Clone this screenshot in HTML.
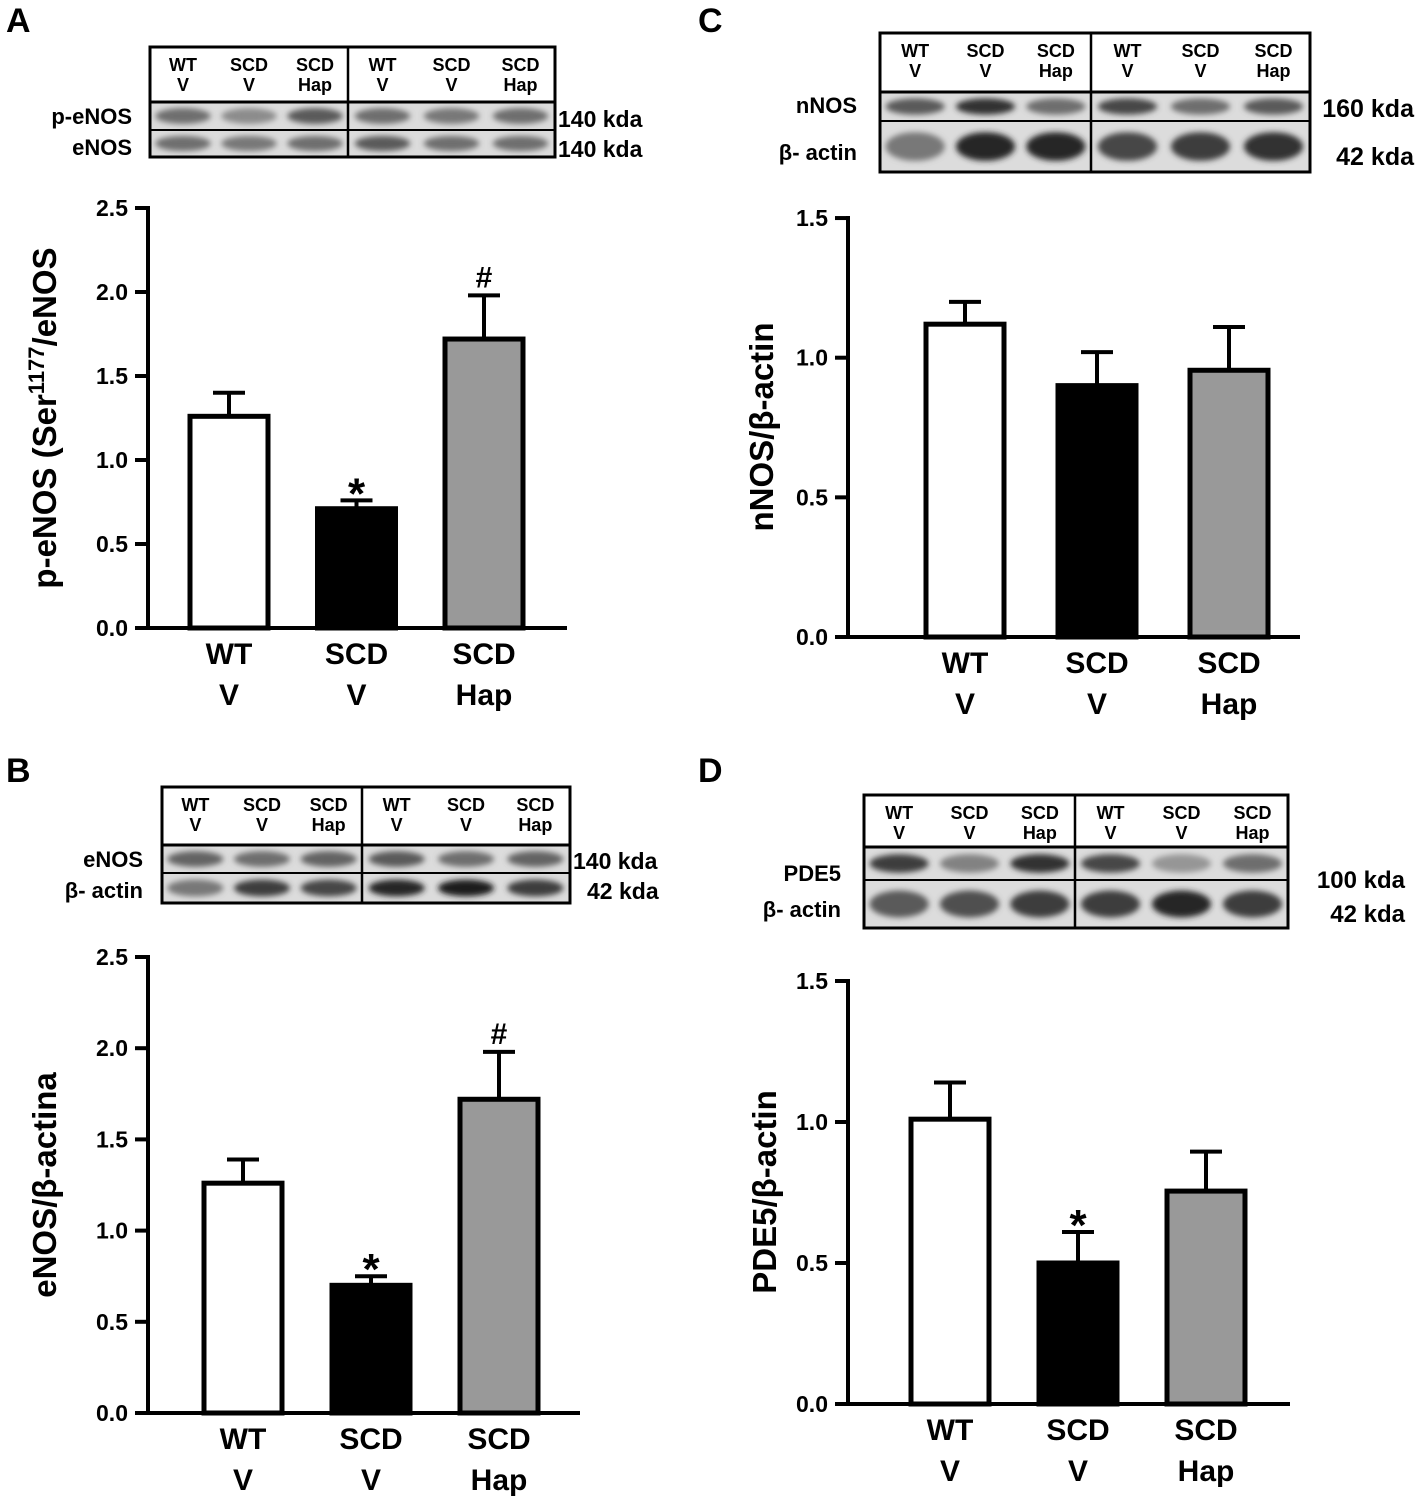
<!DOCTYPE html>
<html><head><meta charset="utf-8"><style>
html,body{margin:0;padding:0;background:#fff}
svg{display:block;font-family:"Liberation Sans",Arial,sans-serif;font-weight:bold}
</style></head><body>
<svg id="fig" width="1418" height="1499" viewBox="0 0 1418 1499" xmlns="http://www.w3.org/2000/svg">
<defs><filter id="blur" x="-20%" y="-50%" width="140%" height="200%"><feGaussianBlur stdDeviation="3"/></filter></defs>
<text x="6" y="32" font-size="34">A</text>
<text x="6" y="782" font-size="34">B</text>
<text x="698" y="32" font-size="34">C</text>
<text x="698" y="782" font-size="34">D</text>
</svg>
<script>
const categories = [["WT","V"],["SCD","V"],["SCD","Hap"]];
const laneLabels = [["WT","V"],["SCD","V"],["SCD","Hap"],["WT","V"],["SCD","V"],["SCD","Hap"]];
const valsA = [1.26, 0.71, 1.72];
const errA  = [1.40, 0.76, 1.98];
const valsB = [1.26, 0.70, 1.72];
const errB  = [1.39, 0.75, 1.98];
const valsC = [1.12, 0.90, 0.955];
const errC  = [1.20, 1.02, 1.11];
const valsD = [1.01, 0.50, 0.755];
const errD  = [1.14, 0.61, 0.895];
const ticksAB = ["0.0","0.5","1.0","1.5","2.0","2.5"];
const ticksCD = ["0.0","0.5","1.0","1.5"];
const marksAB = ["","*","#"];
const marksC = ["","",""];
const marksD = ["","*",""];
const fills = ["#fff","#000","#999"];
const svg = document.getElementById('fig');
const NS = "http://www.w3.org/2000/svg";
function mk(tag, attrs, parent){ const e=document.createElementNS(NS,tag); for(const k in attrs) e.setAttribute(k,attrs[k]); (parent||svg).appendChild(e); return e; }

function chart(c){
  const g = mk('g',{});
  
  
  const y = v => c.y0 - v*c.ppu;
  const xc = i => c.x0 + c.off + c.sp*i;
  const top = y(parseFloat(c.ticks[c.ticks.length-1]));
  const ax = mk('line',{x1:c.x0,y1:top-2,x2:c.x0,y2:c.y0+2,stroke:'#000','stroke-width':4},g);
  
  
  const xa = mk('line',{x1:c.x0-2,y1:c.y0,x2:c.xEnd,y2:c.y0,stroke:'#000','stroke-width':4},g);
  
  
  c.ticks.forEach(t=>{
    const ty = y(parseFloat(t));
    mk('line',{x1:c.x0-13,y1:ty,x2:c.x0,y2:ty,stroke:'#000','stroke-width':4},g);
    const tl = mk('text',{x:c.x0-20,y:ty+8,'font-size':23,'text-anchor':'end'},g);
    tl.textContent = t;
    
    
  });
  c.vals.forEach((v,i)=>{
    const cx = xc(i), w = 78;
    const et = y(c.err[i]);
    mk('line',{x1:cx,y1:y(v),x2:cx,y2:et,stroke:'#000','stroke-width':4},g);
    mk('line',{x1:cx-16,y1:et,x2:cx+16,y2:et,stroke:'#000','stroke-width':4},g);
    const b = mk('rect',{x:cx-w/2,y:y(v),width:w,height:c.y0-y(v),fill:fills[i],stroke:'#000','stroke-width':5},g);
    
    
    if(c.marks[i]){
      const m = mk('text',{x:cx,y:et-(c.marks[i]=='*'?-8:8),'font-size':c.marks[i]=='*'?44:30,'text-anchor':'middle'},g);
      m.textContent = c.marks[i];
      
      
    }
    categories[i].forEach((s,k)=>{
      const t = mk('text',{x:cx,y:c.y0+36+k*41,'font-size':30,'text-anchor':'middle'},g);
      t.textContent = s;
      
      
    });
  });
  const tt = mk('text',{x:0,y:0,'font-size':33,'text-anchor':'middle',transform:`translate(${c.tx},${c.ty}) rotate(-90)`},g);
  tt.innerHTML = c.title;
  
  
}

function blot(b){
  const g = mk('g',{});
  
  
  const W = b.x1-b.x0;
  const lw1 = (b.div-b.x0)/3, lw2 = (b.x1-b.div)/3;
  const lane = i => i<3 ? b.x0+lw1*(i+0.5) : b.div+lw2*(i-3+0.5);
  const lw = Math.min(lw1,lw2);
  b.rows.forEach((r,ri)=>{
    mk('rect',{x:b.x0,y:r.y0,width:W,height:r.y1-r.y0,fill:'#dcdcdc'},g);
    r.int.forEach((d,li)=>{
      const cx = lane(li), cy=(r.y0+r.y1)/2;
      mk('ellipse',{cx:cx,cy:cy,rx:lw*0.42,ry:(r.y1-r.y0)*0.28,fill:`rgb(${d},${d},${d})`,filter:'url(#blur)'},g);
    });
    const l = mk('text',{x:b.lx,y:r.ly,'font-size':22,'text-anchor':'end'},g);
    l.textContent = r.label;
    
    
    const k = mk('text',{x:r.kx,y:r.ky,'font-size':r.ks||23,'text-anchor':r.ka||'start'},g);
    k.textContent = r.kda;
    
    
  });
  mk('rect',{x:b.x0,y:b.y0,width:W,height:b.y1-b.y0,fill:'none',stroke:'#000','stroke-width':3},g);
  mk('line',{x1:b.x0,y1:b.hy,x2:b.x1,y2:b.hy,stroke:'#000','stroke-width':3},g);
  b.rows.slice(1).forEach(r=>mk('line',{x1:b.x0,y1:r.y0,x2:b.x1,y2:r.y0,stroke:'#000','stroke-width':2},g));
  mk('line',{x1:b.div,y1:b.y0,x2:b.div,y2:b.y1,stroke:'#000','stroke-width':2.5},g);
  laneLabels.forEach((s,i)=>{
    const cx = lane(i);
    s.forEach((t,k)=>{
      const e = mk('text',{x:cx,y:b.y0+24+k*20,'font-size':18,'text-anchor':'middle'},g);
      e.textContent = t;
      
      
    });
  });
}

chart({id:'a',x0:148,y0:628,ppu:168,xEnd:567,off:81,sp:127.5,vals:valsA,err:errA,ticks:ticksAB,marks:marksAB,tx:56,ty:418,title:'p-eNOS (Ser<tspan dy="-12" font-size="22">1177</tspan><tspan dy="12">/eNOS</tspan>'});
chart({id:'b',x0:148,y0:1413,ppu:182.4,xEnd:580,off:95,sp:128,vals:valsB,err:errB,ticks:ticksAB,marks:marksAB,tx:56,ty:1185,title:'eNOS/β-actina'});
chart({id:'c',x0:848,y0:637,ppu:279.3,xEnd:1300,off:117,sp:132,vals:valsC,err:errC,ticks:ticksCD,marks:marksC,tx:773,ty:427,title:'nNOS/β-actin'});
chart({id:'d',x0:848,y0:1404,ppu:282,xEnd:1290,off:102,sp:128,vals:valsD,err:errD,ticks:ticksCD,marks:marksD,tx:776,ty:1192,title:'PDE5/β-actin'});

blot({id:'a',x0:150,x1:555,y0:47,y1:157,hy:102,div:348,lx:132,rows:[
 {y0:102,y1:130,label:'p-eNOS',ly:124,kda:'140 kda',kx:558,ky:127,int:[110,140,90,110,120,110]},
 {y0:130,y1:157,label:'eNOS',ly:155,kda:'140 kda',kx:558,ky:157,int:[110,120,110,90,110,110]}]});
blot({id:'b',x0:162,x1:570,y0:787,y1:903,hy:845,div:362,lx:143,rows:[
 {y0:845,y1:873,label:'eNOS',ly:867,kda:'140 kda',kx:573,ky:869,int:[100,110,100,90,110,100]},
 {y0:873,y1:903,label:'β- actin',ly:898,kda:'42 kda',kx:587,ky:899,int:[120,60,70,40,30,60]}]});
blot({id:'c',x0:880,x1:1310,y0:33,y1:172,hy:92,div:1091,lx:857,rows:[
 {y0:92,y1:121,label:'nNOS',ly:113,kda:'160 kda',kx:1414,ky:117,ka:'end',ks:25,int:[90,50,110,70,110,90]},
 {y0:121,y1:172,label:'β- actin',ly:160,kda:'42 kda',kx:1414,ky:165,ka:'end',ks:25,int:[120,40,40,70,60,50]}]});
blot({id:'d',x0:864,x1:1288,y0:795,y1:928,hy:847,div:1075,lx:841,rows:[
 {y0:847,y1:880,label:'PDE5',ly:881,kda:'100 kda',kx:1405,ky:888,ka:'end',ks:24,int:[60,130,50,70,150,110]},
 {y0:880,y1:928,label:'β- actin',ly:917,kda:'42 kda',kx:1405,ky:922,ka:'end',ks:24,int:[90,80,60,60,40,60]}]});
</script>
</body></html>
